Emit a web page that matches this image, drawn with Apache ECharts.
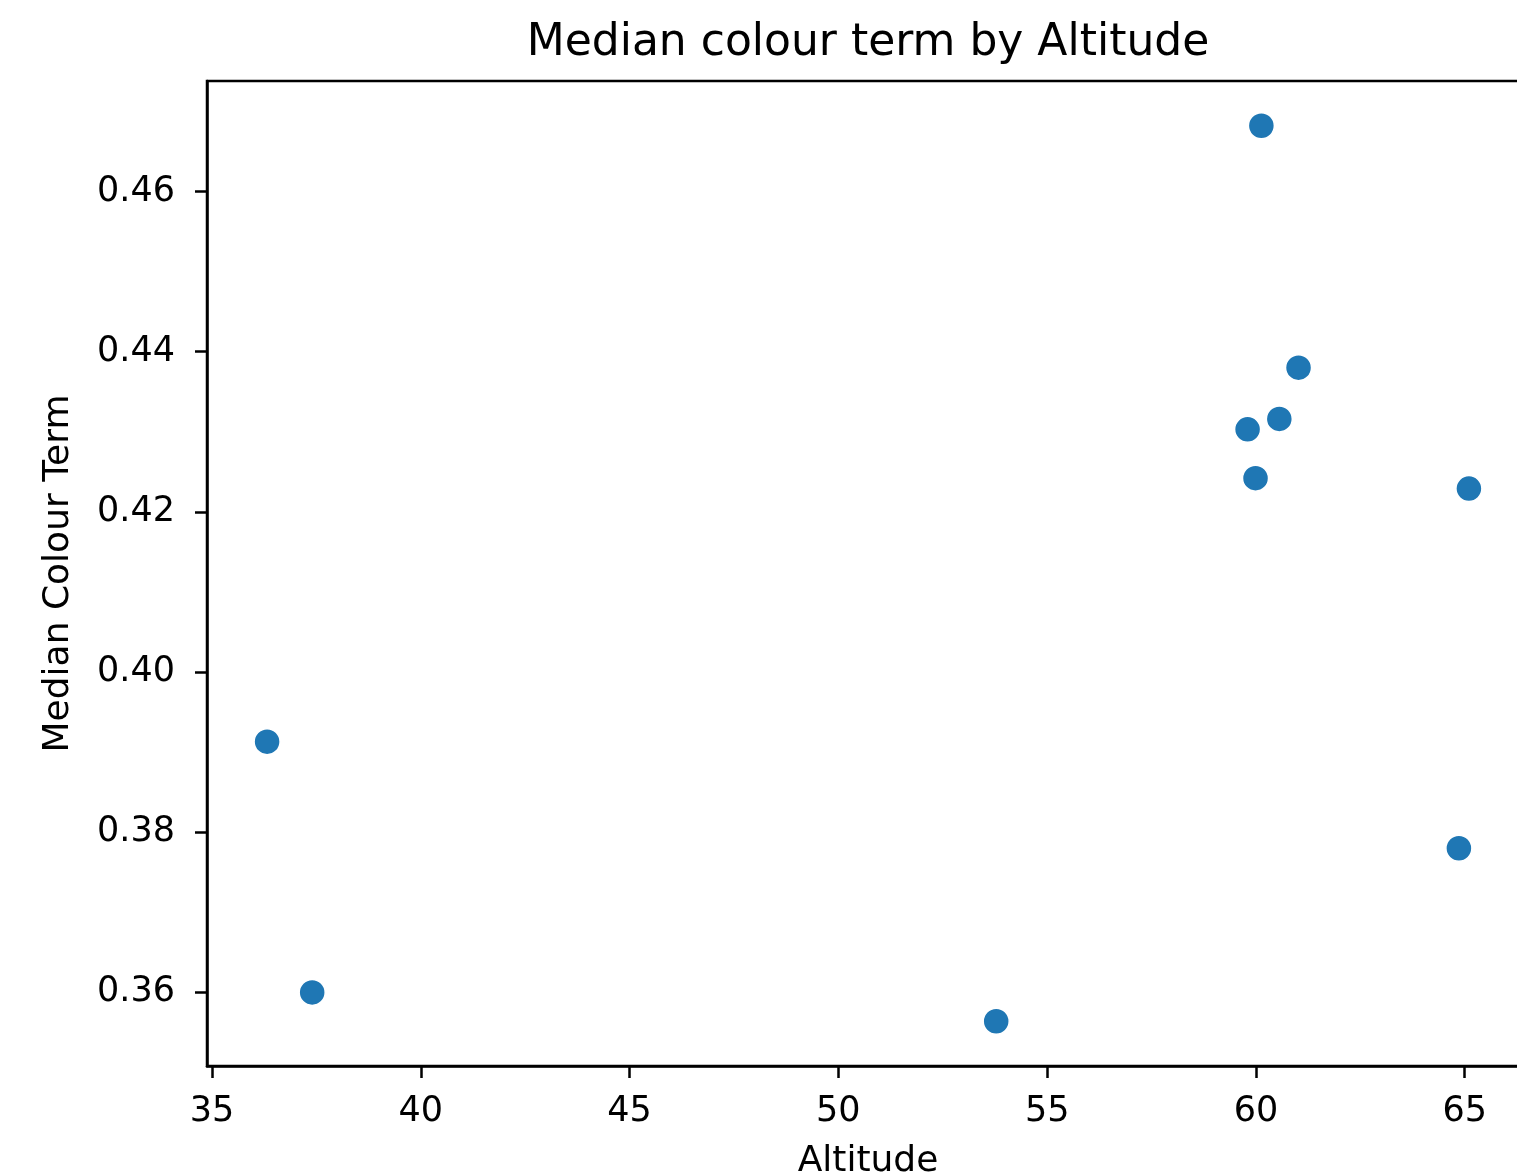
<!DOCTYPE html>
<html>
<head>
<meta charset="utf-8">
<title>Median colour term by Altitude</title>
<script src="https://cdn.jsdelivr.net/npm/echarts@6/dist/echarts.min.js"></script>
<style>
  html, body { margin: 0; padding: 0; background: #fff; overflow: hidden; }
  /* plot box runs past the right edge of the window, like the reference */
  #main { width: 1736px; height: 1174px; }
</style>
</head>
<body>
<div id="main"></div>
<script>
  // values
  const altitude = [36.32, 37.40, 53.78, 60.13, 61.02, 60.56, 59.80, 59.99, 65.10, 64.86]
  const colourTerm = [0.3913, 0.3600, 0.3564, 0.4682, 0.4380, 0.4316, 0.4303, 0.4242, 0.4229, 0.3780]
  const xTicks = [35, 40, 45, 50, 55, 60, 65]
  const yTicks = [0.36, 0.38, 0.40, 0.42, 0.44, 0.46]

  const points = altitude.map((a, i) => [a, colourTerm[i]])
  const font = 'DejaVu Sans'

  const chart = echarts.init(document.getElementById('main'), null, {renderer: 'canvas'})
  const option = {
    animation: false,
    backgroundColor: '#fff',
    title: {
      text: 'Median colour term by Altitude',
      left: 'center',
      top: 22,
      padding: 0,
      textStyle: {fontFamily: font, fontSize: 44, fontWeight: 'normal', color: '#000'}
    },
    grid: {
      left: 207,
      right: 207,
      top: 81,
      bottom: 108,
      show: true,
      borderColor: '#000',
      borderWidth: 2.5,
      containLabel: false,
      outerBoundsMode: 'none'
    },
    xAxis: {
      type: 'value',
      min: 34.881,
      max: 66.539,
      name: 'Altitude',
      nameLocation: 'middle',
      nameGap: 78,
      nameTextStyle: {fontFamily: font, fontSize: 36, color: '#000', verticalAlign: 'top'},
      axisLine: {show: true, onZero: false, lineStyle: {color: '#000', width: 2.5}},
      axisTick: {show: true, length: 12, lineStyle: {color: '#000', width: 2.5}, customValues: xTicks},
      axisLabel: {
        fontFamily: font, fontSize: 35, color: '#000', margin: 28,
        customValues: xTicks,
        formatter: v => String(v)
      },
      splitLine: {show: false}
    },
    yAxis: {
      type: 'value',
      min: 0.35081,
      max: 0.47379,
      name: 'Median Colour Term',
      nameLocation: 'middle',
      nameGap: 130,
      nameTextStyle: {fontFamily: font, fontSize: 36, color: '#000'},
      axisLine: {show: true, onZero: false, lineStyle: {color: '#000', width: 2.5}},
      axisTick: {show: true, length: 12, lineStyle: {color: '#000', width: 2.5}, customValues: yTicks},
      axisLabel: {
        fontFamily: font, fontSize: 35, color: '#000', margin: 32,
        customValues: yTicks,
        formatter: v => v.toFixed(2)
      },
      splitLine: {show: false}
    },
    series: [
      {
        type: 'scatter',
        data: points,
        symbol: 'circle',
        symbolSize: 26,
        itemStyle: {color: '#1f77b4', borderColor: '#fff', borderWidth: 1.5, opacity: 1}
      }
    ]
  }
  chart.setOption(option)
</script>
</body>
</html>
